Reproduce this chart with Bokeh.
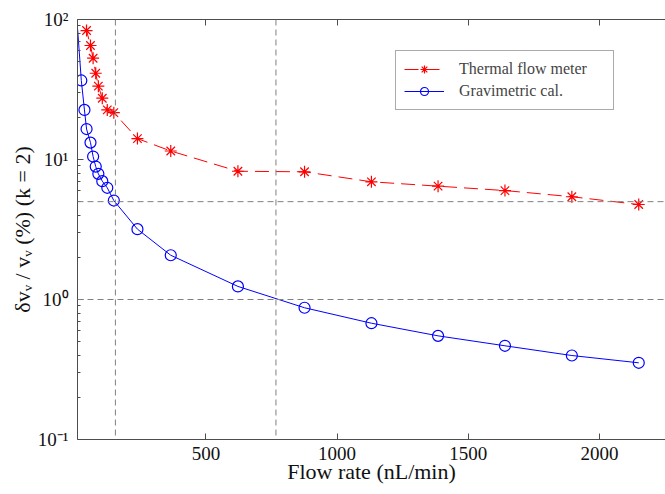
from bokeh.plotting import figure
from bokeh.models import (LinearAxis, FixedTicker, CustomJSTickFormatter, Span,
                          Legend, LegendItem, Range1d)
from bokeh.embed import file_html
from bokeh.resources import INLINE

# ---- data ----
flow_rate = [25, 37, 45, 60, 70, 80, 90, 105, 124, 149, 239, 366,
             622, 876, 1131, 1385, 1640, 1895, 2150]
gravimetric_unc = [36.7, 22.6, 16.5, 13.2, 10.5, 8.9, 7.9, 7.0, 6.28, 5.09, 3.18, 2.07,
                   1.24, 0.873, 0.677, 0.55, 0.467, 0.398, 0.353]
# fitted curve continues to the left edge of the axes
grav_curve_lead_x = [11]
grav_curve_lead_y = [85]

thermal_flow = flow_rate[1:]
thermal_unc = [180, 83.4, 65.2, 52.9, 41.3, 33.4, 27.4, 22.6, 21.6, 14.1, 11.5,
               8.24, 8.17, 6.93, 6.45, 6.0, 5.42, 4.77]

ref_flow_lines = [155, 767]
ref_unc_lines = [5, 1]

x_ticks = [500, 1000, 1500, 2000]
y_ticks = [0.1, 1, 10, 100]
y_minor = [m * d for d in (0.1, 1, 10) for m in range(2, 10)]

FONT = "'Liberation Serif', 'Times New Roman', serif"
AX = "#4d4d4d"

p = figure(width=665, height=492, y_axis_type="log",
           x_range=Range1d(10.5, 2252), y_range=Range1d(0.1, 100),
           output_backend="svg", toolbar_location=None,
           min_border_left=77, min_border_right=0, min_border_top=19, min_border_bottom=53)
p.grid.visible = False
p.outline_line_color = None
p.background_fill_color = "white"
p.border_fill_color = "white"

# reference dashed lines
for v in ref_flow_lines:
    p.add_layout(Span(location=v, dimension="height", line_color="#808080",
                      line_dash="6 4", line_width=1))
for v in ref_unc_lines:
    p.add_layout(Span(location=v, dimension="width", line_color="#808080",
                      line_dash="6 4", line_width=1))

# series
t_line = p.line(thermal_flow, thermal_unc, line_color="#ff0000", line_width=1, line_dash="14 7")
t_mark = p.scatter(thermal_flow[1:], thermal_unc[1:], marker="asterisk", size=12,
                   line_color="#ff0000", line_width=1.2)
g_line = p.line(grav_curve_lead_x + flow_rate, grav_curve_lead_y + gravimetric_unc,
                line_color="#0000ff", line_width=1)
g_mark = p.scatter(flow_rate, gravimetric_unc, marker="circle", size=11,
                   line_color="#0000ff", fill_color=None, line_width=1.2)

# axes
xa = p.xaxis[0]
xa.ticker = FixedTicker(ticks=x_ticks, minor_ticks=[])
xa.axis_label = "Flow rate (nL/min)"
ya = p.yaxis[0]
ya.ticker = FixedTicker(ticks=y_ticks, minor_ticks=y_minor)
ya.formatter = CustomJSTickFormatter(code="""
const e = Math.round(Math.log10(tick));
const m = {"-1": "\u207b\u00b9", "0": "\u2070", "1": "\u00b9", "2": "\u00b2"};
return "10" + m[String(e)];
""")
ya.axis_label = "δvᵥ / vᵥ (%) (k = 2)"

top = LinearAxis(ticker=FixedTicker(ticks=x_ticks, minor_ticks=[]),
                 formatter=CustomJSTickFormatter(code="return ''"))
top.major_label_text_font_size = "0px"
top.major_label_standoff = 0
p.add_layout(top, "above")

for ax in (xa, ya, top):
    ax.axis_line_color = AX
    ax.major_tick_line_color = AX
    ax.minor_tick_line_color = AX
    ax.major_tick_in = 6
    ax.major_tick_out = 0
    ax.minor_tick_in = 3
    ax.minor_tick_out = 0
for ax in (xa, ya):
    ax.major_label_text_font = FONT
    ax.major_label_text_font_size = "19px"
    ax.major_label_text_color = "#111111"
    ax.axis_label_text_font = FONT
    ax.axis_label_text_font_size = "22px"
    ax.axis_label_text_font_style = "normal"
    ax.axis_label_text_color = "#111111"
xa.major_label_standoff = 7
xa.axis_label_standoff = -4
ya.major_label_standoff = 9
ya.axis_label_standoff = 0

legend = Legend(items=[LegendItem(label="Thermal flow meter", renderers=[t_line, t_mark]),
                       LegendItem(label="Gravimetric cal.", renderers=[g_line, g_mark])],
                location=(318, 329), margin=0, padding=8, spacing=2,
                glyph_width=40, glyph_height=20, label_height=20, label_standoff=15,
                label_width=146,
                label_text_font=FONT, label_text_font_size="16px",
                border_line_color="#555555", border_line_width=1,
                background_fill_color="white", background_fill_alpha=1)
p.add_layout(legend, "center")

open("out.html", "w").write(file_html(p, INLINE))
